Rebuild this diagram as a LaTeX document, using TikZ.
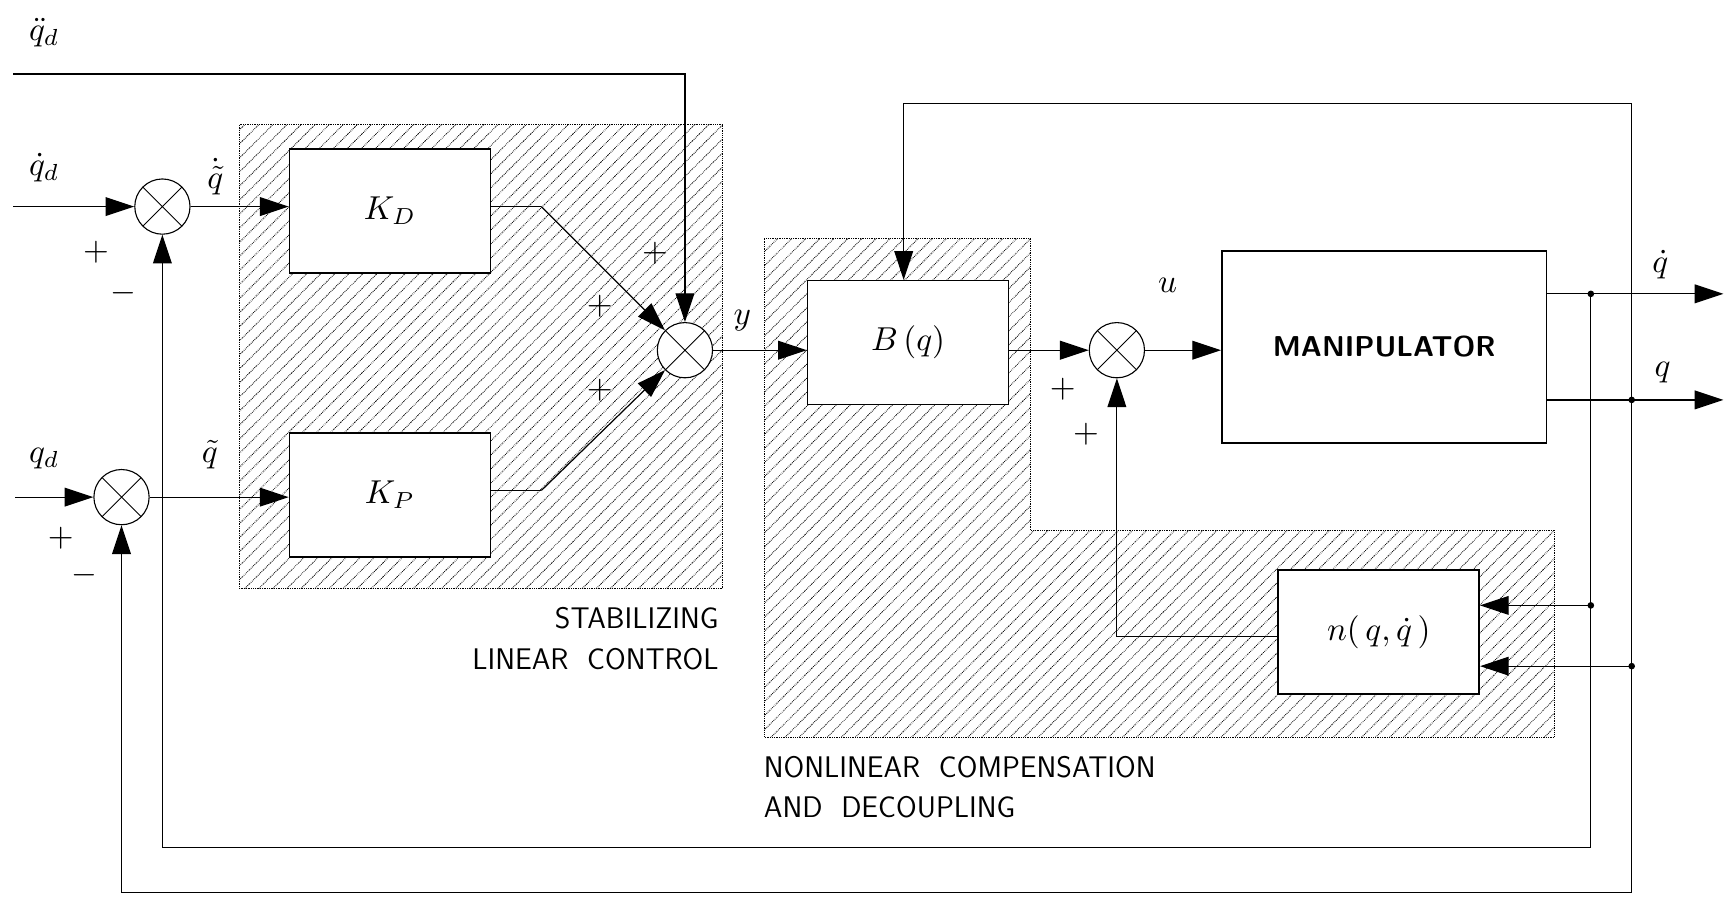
\documentclass[tikz,border=0pt]{standalone}
\usepackage{graphicx}
\usetikzlibrary{patterns.meta,arrows.meta}
\newcommand{\bx}[1]{\scalebox{3}{#1}}
\begin{document}
\begin{tikzpicture}[x=1pt,y=-1pt,
  blk/.style={draw,line width=1.4pt,fill=white,minimum width=182pt,minimum height=112pt},
  sum/.style={draw,line width=1pt,fill=white,circle,minimum size=50pt,inner sep=0pt,path picture={\draw[line width=0.8pt] (path picture bounding box.north west)--(path picture bounding box.south east) (path picture bounding box.north east)--(path picture bounding box.south west);}},
  ln/.style={line width=1.1pt},
  ar/.style={ln,-{Triangle[length=26pt,width=17pt]}},
  hatch/.style={draw,densely dotted,line width=0.6pt,pattern={Lines[angle=45,distance=9pt,line width=0.9pt]}},
  lab/.style={inner sep=0pt},
  pm/.style={inner sep=0pt},
  captxt/.style={font=\sffamily\fontsize{27}{30}\selectfont}]
\useasboundingbox (0,0) rectangle (1566,818);
% hatched regions
\path[hatch] (217,113) rectangle (654,533);
\path[hatch] (692,216) -- (933,216) -- (933,480) -- (1407,480) -- (1407,667) -- (692,667) -- cycle;
% blocks
\node[blk] (KD) at (353,191) {\bx{$K_D$}};
\node[blk] (KP) at (353,448) {\bx{$K_P$}};
\node[blk] (B) at (822,310) {\bx{$B\,(q)$}};
\node[blk,minimum width=294pt,minimum height=174pt,font=\sffamily\bfseries\fontsize{26}{28}\selectfont] (M) at (1253,314) {MANIPULATOR};
\node[blk] (N) at (1248,572) {\bx{$n(\,q,\dot q\,)$}};
% summers
\node[sum] (S1) at (147,187) {};
\node[sum] (S2) at (110,450) {};
\node[sum] (S3) at (620,317) {};
\node[sum] (S4) at (1011,317) {};
% coordinates
\coordinate (i1) at (12,187);
\coordinate (i2) at (14,450);
\coordinate (i3) at (12,67);
\coordinate (c3) at (620,67);
\coordinate (kd1) at (490,187);
\coordinate (kp1) at (490,444);
\coordinate (o1) at (1560,266);
\coordinate (o2) at (1560,362);
\coordinate (d1) at (1440,266);
\coordinate (d2) at (1477,362);
\coordinate (d3) at (1440,548);
\coordinate (d4) at (1477,603);
\coordinate (top) at (818,94);
% connectors
\draw[ar] (i1) -- (S1);
\draw[ar] (i2) -- (S2);
\draw[ar] (i3) -- (c3) -- (S3);
\draw[ar] (S1) -- (KD.west |- S1);
\draw[ar] (S2) -- (KP.west |- S2);
\draw[ln] (KD.east |- kd1) -- (kd1);
\draw[ar] (kd1) -- (S3.north west);
\draw[ln] (KP.east |- kp1) -- (kp1);
\draw[ar] (kp1) -- (S3.south west);
\draw[ar] (S3) -- (B.west |- S3);
\draw[ar] (B.east |- S4) -- (S4);
\draw[ar] (S4) -- (M.west |- S4);
\draw[ar] (M.east |- o1) -- (o1);
\draw[ar] (M.east |- o2) -- (o2);
\draw[ar] (N.west |- 0,576) -| (S4);
\draw[ar] (d4 |- top) -- (top) -- (top |- B.north);
\draw[ln] (d4 |- top) -- (1477,808) -- (110,808);
\draw[ar] (110,808) -- (S2);
\draw[ln] (d1) -- (1440,767) -- (147,767);
\draw[ar] (147,767) -- (S1);
\draw[ar] (d3) -- (N.east |- d3);
\draw[ar] (d4) -- (N.east |- d4);
\foreach \p in {d1,d2,d3,d4} \fill (\p) circle (3pt);
% labels
\node[lab] at (40,30) {\bx{$\ddot q_d$}};
\node[lab] at (40,152) {\bx{$\dot q_d$}};
\node[lab] at (40,415) {\bx{$q_d$}};
\node[lab] at (195,160) {\bx{$\dot{\tilde q}$}};
\node[lab] at (190,412) {\bx{$\tilde q$}};
\node[lab] at (672,290) {\bx{$y$}};
\node[lab] at (1057,258) {\bx{$u$}};
\node[lab] at (1503,240) {\bx{$\dot q$}};
\node[lab] at (1505,337) {\bx{$q$}};
\node[pm] at (87,228) {\bx{$+$}};
\node[pm] at (112,265) {\bx{$-$}};
\node[pm] at (55,487) {\bx{$+$}};
\node[pm] at (76,521) {\bx{$-$}};
\node[pm] at (593,229) {\bx{$+$}};
\node[pm] at (543,277) {\bx{$+$}};
\node[pm] at (543,353) {\bx{$+$}};
\node[pm] at (962,352) {\bx{$+$}};
\node[pm] at (983,393) {\bx{$+$}};
\node[captxt,anchor=east] at (654,560) {STABILIZING};
\node[captxt,anchor=east] at (654,597) {LINEAR\ \ CONTROL};
\node[captxt,anchor=west] at (688,694) {NONLINEAR\ \ COMPENSATION};
\node[captxt,anchor=west] at (688,731) {AND\ \ DECOUPLING};
\end{tikzpicture}
\end{document}
